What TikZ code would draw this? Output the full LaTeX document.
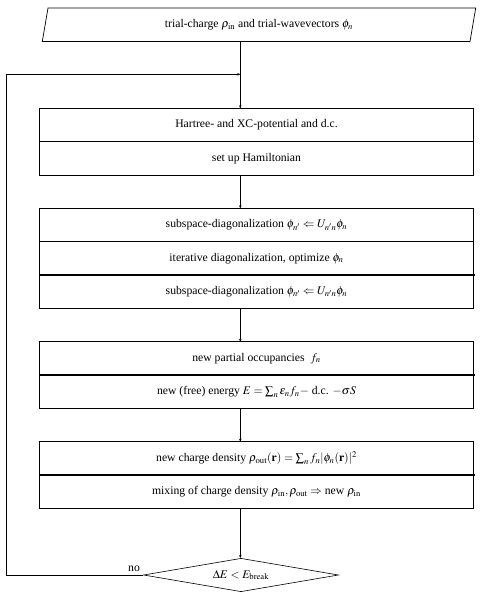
\documentclass[tikz,border=0pt]{standalone}
\usepackage{mathptmx}
\usepackage{fontspec}
\setmainfont{Liberation Serif}
\usetikzlibrary{shapes.geometric,arrows.meta}
\begin{document}
\begin{tikzpicture}[x=1pt,y=-1pt,
  txt/.style={font=\fontsize{11.7}{13.5}\selectfont},
  box/.style={txt, draw, line width=0.7pt, minimum width=434pt, minimum height=33.4pt, inner sep=0pt, outer sep=0pt},
  conn/.style={line width=0.7pt, -{Stealth[length=3pt,width=2.6pt]}},
  thickdiv/.style={line width=1.6pt},
  decision/.style={txt, draw, shape=diamond, aspect=5.84, minimum width=195pt, minimum height=33.4pt, inner sep=0pt, line width=0.6pt}]
\useasboundingbox (0,0) rectangle (496,601);

% start parallelogram
\node[txt, minimum width=433.4pt, minimum height=33.5pt, inner sep=0pt, outer sep=0pt] (p) at (259,24.75)
  {trial-charge $\rho_{\rm in}$ and trial-wavevectors $\phi_n$};
\draw[line width=0.7pt] (p.south west) -- ([xshift=5.7pt]p.north west) -- (p.north east) -- ([xshift=-5.7pt]p.south east) -- cycle;

% box 1
\node[box] (b1a) at (256.5,125) {Hartree- and XC-potential and d.c.};
\node[box, anchor=north] (b1b) at (b1a.south) {set up Hamiltonian};

% box 2
\node[box] (b2a) at (256.5,225) {subspace-diagonalization $\phi_{n'} \Leftarrow U_{n'n}\phi_n$};
\node[box, anchor=north] (b2b) at (b2a.south) {iterative diagonalization, optimize $\phi_n$};
\node[box, anchor=north] (b2c) at (b2b.south) {subspace-diagonalization $\phi_{n'} \Leftarrow U_{n'n}\phi_n$};
\draw[thickdiv] (b2c.north west) -- ([xshift=1.5pt]b2c.north east);

% box 3
\node[box] (b3a) at (256.5,358.4) {new partial occupancies \ $f_n$};
\node[box, anchor=north] (b3b) at (b3a.south) {new (free) energy $E=\sum_n \epsilon_n f_n -$ d.c. $-\sigma S$};
\draw[thickdiv] (b3b.north west) -- ([xshift=1.5pt]b3b.north east);

% box 4
\node[box] (b4a) at (256.5,458.4) {new charge density $\rho_{\rm out}(\mathbf{r})=\sum_n f_n|\phi_n(\mathbf{r})|^2$};
\node[box, anchor=north] (b4b) at (b4a.south) {mixing of charge density $\rho_{\rm in},\rho_{\rm out}\Rightarrow$ new $\rho_{\rm in}$};
\draw[thickdiv] (b4b.north west) -- ([xshift=1.5pt]b4b.north east);

% decision
\node[decision] (d) at (241,575) {$\Delta E<E_{\rm break}$};
\node[txt] (no) at (134,568.5) {no};

% connectors
\coordinate (lc) at (6.3,74.3);
\coordinate (la) at (240.3,74.3);
\draw[conn] (p.south -| la) -- (b1a.north -| la);
\draw[conn] (b1b.south -| la) -- (b2a.north -| la);
\draw[conn] (b2c.south -| la) -- (b3a.north -| la);
\draw[conn] (b3b.south -| la) -- (b4a.north -| la);
\draw[conn] (b4b.south -| la) -- (d.north -| la);
\draw[conn] (d.west) -| (lc) -- (la);
\end{tikzpicture}
\end{document}
